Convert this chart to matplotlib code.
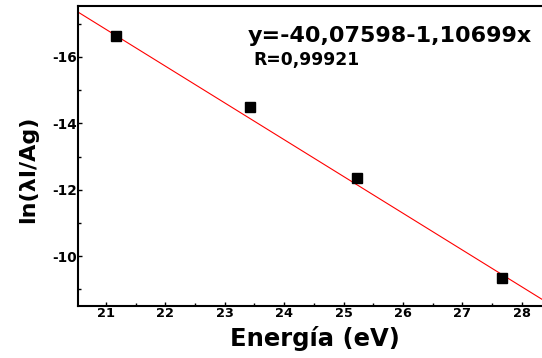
import numpy as np
import matplotlib.pyplot as plt
from matplotlib.ticker import MultipleLocator

plt.rcParams['font.family'] = ['DejaVu Sans']
plt.rcParams['font.weight'] = 'bold'
plt.rcParams['axes.unicode_minus'] = False

# data
energia = [21.17, 23.42, 25.22, 27.67]
ln_val = [-16.63, -14.48, -12.37, -9.34]
fit_a = -40.07598
fit_b = 1.10699
x_ticks = [21, 22, 23, 24, 25, 26, 27, 28]
y_ticks = [-16, -14, -12, -10]

fig = plt.figure(figsize=(5.42, 3.58), dpi=100)
ax = fig.add_axes([0.144, 0.145, 0.856, 0.838])

ax.set_xlim(20.53, 28.34)
ax.set_ylim(-8.5, -17.53)

# fit line across the whole plot
xx = np.array([20.4, 28.5])
ax.plot(xx, fit_a + fit_b * xx, color='red', lw=0.8)
ax.plot(energia, ln_val, 's', color='black', ms=6.5)

ax.set_xticks(x_ticks)
ax.set_xticklabels([str(t) for t in x_ticks], fontsize=9.3, fontweight='bold')
ax.set_yticks(y_ticks)
ax.set_yticklabels([str(t) for t in y_ticks], fontsize=9.8, fontweight='bold')
ax.xaxis.set_minor_locator(MultipleLocator(0.5))
ax.yaxis.set_minor_locator(MultipleLocator(1))
ax.tick_params(which='both', direction='in', width=1)
ax.tick_params(which='major', length=3)
ax.tick_params(which='minor', length=2)
ax.tick_params(axis='x', pad=1)
ax.tick_params(axis='y', pad=1)

for s in ax.spines.values():
    s.set_linewidth(1.5)
ax.spines['right'].set_visible(False)

ax.set_xlabel('Energía (eV)', fontsize=17.5, fontweight='bold')
ax.xaxis.set_label_coords(0.51, -0.065, transform=ax.transAxes)
ax.xaxis.label.set_va('top')
ax.set_ylabel('ln(λI/Ag)', fontsize=16, fontweight='bold')
ax.yaxis.set_label_coords(-0.108, 0.455, transform=ax.transAxes)
ax.yaxis.label.set_va('center')

fig.text(248 / 542, 1 - 42 / 358, 'y=-40,07598-1,10699x', fontsize=16, fontweight='bold')
fig.text(253 / 542, 1 - 65 / 358, 'R=0,99921', fontsize=12.3, fontweight='bold')

fig.savefig('out.png', dpi=100)
